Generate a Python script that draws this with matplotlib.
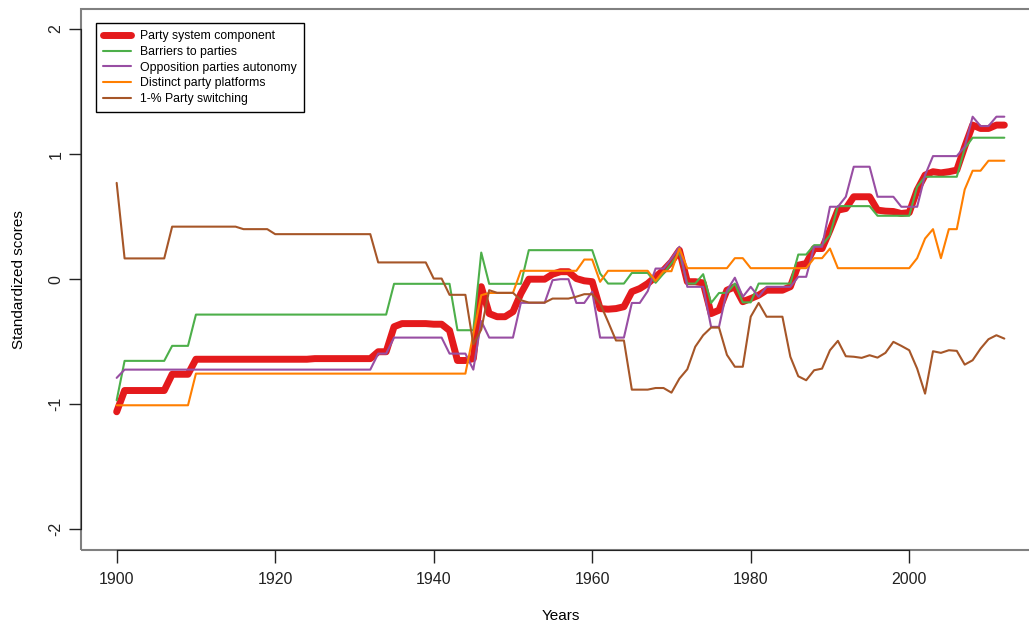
import numpy as np
import matplotlib
matplotlib.use("Agg")
import matplotlib.pyplot as plt
from matplotlib.patches import Rectangle

plt.rcParams['font.family'] = ['Liberation Sans', 'DejaVu Sans']

# years 1900-2012
years = np.arange(1900, 2013)

party_system = [
    -1.06, -0.89, -0.89, -0.89, -0.89, -0.89, -0.89, -0.76, -0.76, -0.76,
    -0.64, -0.64, -0.64, -0.64, -0.64, -0.64, -0.64, -0.64, -0.64, -0.64,
    -0.64, -0.64, -0.64, -0.64, -0.64, -0.635, -0.635, -0.635, -0.635, -0.635,
    -0.635, -0.635, -0.635, -0.58, -0.58, -0.38, -0.355, -0.355, -0.355, -0.355,
    -0.36, -0.36, -0.41, -0.65, -0.65, -0.635, -0.06, -0.275, -0.30, -0.30,
    -0.26, -0.115, 0.0, 0.0, 0.0, 0.04, 0.06, 0.06, 0.005, -0.013,
    -0.02, -0.235, -0.24, -0.235, -0.22, -0.10, -0.075, -0.035, 0.02, 0.072,
    0.139, 0.232, -0.02, -0.02, -0.03, -0.275, -0.248, -0.088, -0.061, -0.18,
    -0.155, -0.128, -0.088, -0.088, -0.088, -0.06, 0.112, 0.125, 0.245, 0.245,
    0.392, 0.552, 0.565, 0.659, 0.659, 0.659, 0.552, 0.544, 0.541, 0.525,
    0.533, 0.712, 0.832, 0.859, 0.85, 0.859, 0.872, 1.059, 1.232, 1.205,
    1.205, 1.232, 1.232,
]

barriers = [
    -0.968, -0.653, -0.653, -0.653, -0.653, -0.653, -0.653, -0.533, -0.533, -0.533,
    -0.283, -0.283, -0.283, -0.283, -0.283, -0.283, -0.283, -0.283, -0.283, -0.283,
    -0.283, -0.283, -0.283, -0.283, -0.283, -0.283, -0.283, -0.283, -0.283, -0.283,
    -0.283, -0.283, -0.283, -0.283, -0.283, -0.037, -0.037, -0.037, -0.037, -0.037,
    -0.037, -0.037, -0.037, -0.408, -0.408, -0.408, 0.213, -0.037, -0.037, -0.037,
    -0.037, -0.037, 0.232, 0.232, 0.232, 0.232, 0.232, 0.232, 0.232, 0.232,
    0.232, 0.045, -0.035, -0.035, -0.035, 0.05, 0.05, 0.05, -0.029, 0.045,
    0.125, 0.215, -0.035, -0.035, 0.04, -0.19, -0.11, -0.11, -0.035, -0.185,
    -0.185, -0.035, -0.035, -0.035, -0.035, -0.035, 0.197, 0.197, 0.272, 0.272,
    0.352, 0.584, 0.584, 0.584, 0.584, 0.584, 0.507, 0.507, 0.507, 0.507,
    0.507, 0.739, 0.819, 0.819, 0.819, 0.819, 0.819, 1.045, 1.131, 1.131,
    1.131, 1.131, 1.131,
]

opposition = [
    -0.789, -0.723, -0.723, -0.723, -0.723, -0.723, -0.723, -0.723, -0.723, -0.723,
    -0.723, -0.723, -0.723, -0.723, -0.723, -0.723, -0.723, -0.723, -0.723, -0.723,
    -0.723, -0.723, -0.723, -0.723, -0.723, -0.723, -0.723, -0.723, -0.723, -0.723,
    -0.723, -0.723, -0.723, -0.595, -0.595, -0.467, -0.467, -0.467, -0.467, -0.467,
    -0.467, -0.467, -0.595, -0.595, -0.595, -0.723, -0.335, -0.467, -0.467, -0.467,
    -0.467, -0.189, -0.189, -0.189, -0.189, -0.008, 0.0, 0.0, -0.19, -0.19,
    -0.10, -0.467, -0.467, -0.467, -0.467, -0.19, -0.19, -0.096, 0.085, 0.085,
    0.165, 0.259, -0.061, -0.061, -0.061, -0.381, -0.381, -0.09, 0.012, -0.141,
    -0.061, -0.141, -0.061, -0.061, -0.061, -0.061, 0.019, 0.019, 0.259, 0.259,
    0.579, 0.579, 0.659, 0.899, 0.899, 0.899, 0.659, 0.659, 0.659, 0.579,
    0.579, 0.579, 0.832, 0.984, 0.984, 0.984, 0.984, 1.059, 1.299, 1.224,
    1.224, 1.299, 1.299,
]

platforms = [
    -1.008, -1.008, -1.008, -1.008, -1.008, -1.008, -1.008, -1.008, -1.008, -1.008,
    -0.755, -0.755, -0.755, -0.755, -0.755, -0.755, -0.755, -0.755, -0.755, -0.755,
    -0.755, -0.755, -0.755, -0.755, -0.755, -0.755, -0.755, -0.755, -0.755, -0.755,
    -0.755, -0.755, -0.755, -0.755, -0.755, -0.755, -0.755, -0.755, -0.755, -0.755,
    -0.755, -0.755, -0.755, -0.755, -0.755, -0.44, -0.128, -0.11, -0.11, -0.11,
    -0.11, 0.067, 0.067, 0.067, 0.067, 0.067, 0.067, 0.067, 0.067, 0.157,
    0.157, -0.021, 0.067, 0.067, 0.067, 0.067, 0.067, 0.067, -0.015, 0.064,
    0.064, 0.245, 0.088, 0.088, 0.088, 0.088, 0.088, 0.088, 0.168, 0.168,
    0.088, 0.088, 0.088, 0.088, 0.088, 0.088, 0.088, 0.088, 0.168, 0.168,
    0.245, 0.088, 0.088, 0.088, 0.088, 0.088, 0.088, 0.088, 0.088, 0.088,
    0.088, 0.168, 0.325, 0.40, 0.168, 0.40, 0.40, 0.717, 0.867, 0.867,
    0.947, 0.947, 0.947,
]

switching = [
    0.77, 0.166, 0.166, 0.166, 0.166, 0.166, 0.166, 0.42, 0.42, 0.42,
    0.42, 0.42, 0.42, 0.42, 0.42, 0.42, 0.40, 0.40, 0.40, 0.40,
    0.36, 0.36, 0.36, 0.36, 0.36, 0.36, 0.36, 0.36, 0.36, 0.36,
    0.36, 0.36, 0.36, 0.134, 0.134, 0.134, 0.134, 0.134, 0.134, 0.134,
    0.005, 0.005, -0.125, -0.125, -0.125, -0.52, -0.403, -0.088, -0.109, -0.109,
    -0.109, -0.168, -0.187, -0.187, -0.187, -0.155, -0.155, -0.155, -0.14, -0.12,
    -0.12, -0.195, -0.34, -0.49, -0.49, -0.883, -0.883, -0.883, -0.87, -0.87,
    -0.907, -0.795, -0.72, -0.54, -0.448, -0.387, -0.387, -0.605, -0.70, -0.70,
    -0.30, -0.19, -0.30, -0.30, -0.30, -0.62, -0.776, -0.808, -0.728, -0.715,
    -0.568, -0.493, -0.616, -0.62, -0.629, -0.608, -0.627, -0.589, -0.501, -0.533,
    -0.568, -0.715, -0.915, -0.576, -0.589, -0.568, -0.573, -0.683, -0.648, -0.555,
    -0.48, -0.448, -0.475,
]

labels = ["Party system component", "Barriers to parties",
          "Opposition parties autonomy", "Distinct party platforms",
          "1-% Party switching"]
colors = ["#E41A1C", "#4DAF4A", "#984EA3", "#FF7F00", "#A65628"]
series = [party_system, barriers, opposition, platforms, switching]

fig = plt.figure(figsize=(10.29, 6.22), dpi=100)
# plot box runs a bit past the right edge, like the original
ax = fig.add_axes([81 / 1029, 72 / 622, 959 / 1029, 541 / 622])

for i, (vals, lab, col) in enumerate(zip(series, labels, colors)):
    lw = 5 if i == 0 else 1.5
    ax.plot(years, vals, color=col, lw=lw, label=lab,
            solid_capstyle='round', solid_joinstyle='round')

ax.set_xlim(1895.5, 2016.5)
ax.set_ylim(-2.165, 2.16)
ax.set_xticks([1900, 1920, 1940, 1960, 1980, 2000])
ax.set_yticks([-2, -1, 0, 1, 2])
ax.set_yticklabels(["-2", "-1", "0", "1", "2"], rotation=90, va='center')
ax.tick_params(axis='both', length=9, width=1, labelsize=11.5,
               colors='#222222')
ax.tick_params(axis='x', pad=7)
ax.tick_params(axis='y', pad=3.5)

# R-style axes: black axis lines over a gray box
for s in ['top', 'right']:
    ax.spines[s].set_visible(False)
ax.spines['bottom'].set_bounds(1900, 2000)
ax.spines['left'].set_bounds(-2, 2)
ax.spines['bottom'].set_color('#222222')
ax.spines['left'].set_color('#222222')
ax.add_patch(Rectangle((0, 0), 1, 1, transform=ax.transAxes, fill=False,
                       edgecolor='#808080', lw=1.5, clip_on=False, zorder=0))

ax.set_xlabel("Years", fontsize=11, labelpad=15.5)
ax.set_ylabel("Standardized scores", fontsize=11, labelpad=16)

leg = ax.legend(loc='upper left', bbox_to_anchor=(96 / 1029, 1 - 23 / 622),
                bbox_transform=fig.transFigure, borderaxespad=0,
                fontsize=8.8, handlelength=2.3, handletextpad=0.7,
                labelspacing=0.3, borderpad=0.6, fancybox=False,
                framealpha=1, edgecolor='black')
leg.get_frame().set_linewidth(1.0)

fig.savefig("out.png", dpi=100)
